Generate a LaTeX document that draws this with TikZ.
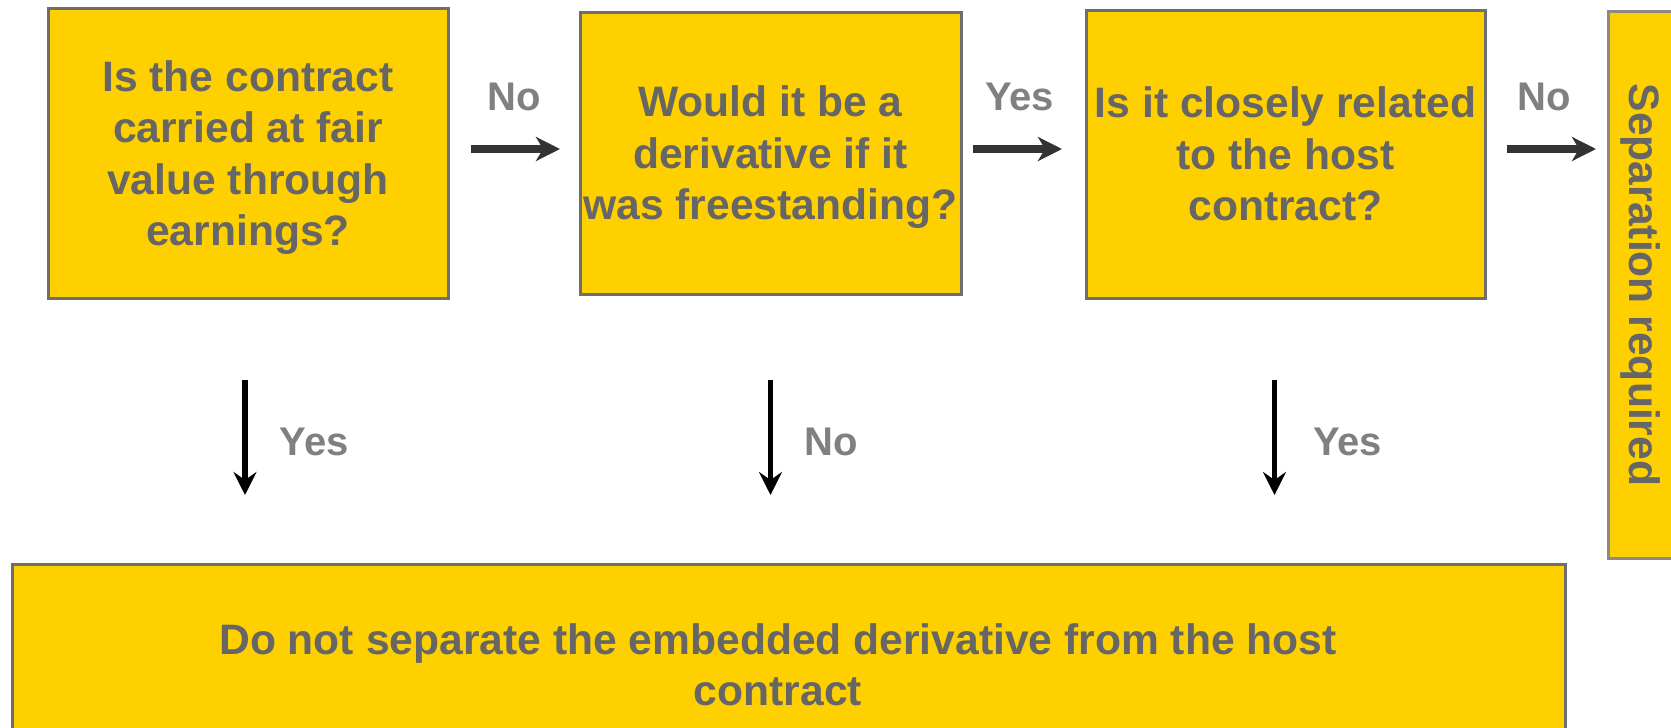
\documentclass[tikz,border=0pt]{standalone}
\usepackage{fontspec}
\setmainfont{Liberation Sans}
\usetikzlibrary{arrows.meta}
\definecolor{boxfill}{HTML}{FFD000}
\definecolor{boxline}{HTML}{6E6E6E}
\definecolor{sepline}{HTML}{8A8A8A}
\definecolor{boxtext}{HTML}{666666}
\definecolor{lbl}{HTML}{808080}
\definecolor{harrow}{HTML}{333333}
\tikzset{
  qbox/.style={draw=boxline, line width=3pt, fill=boxfill, inner sep=0pt,
    text=boxtext, align=center, text depth=0pt,
    font=\fontsize{42.6}{51.5}\selectfont\bfseries},
  plainbox/.style={draw=boxline, line width=3pt, fill=boxfill, inner sep=0pt},
  boxtxt/.style={text=boxtext, align=center, inner sep=0pt,
    font=\fontsize{42.6}{51.5}\selectfont\bfseries},
  lbltxt/.style={text=lbl, inner sep=0pt, font=\fontsize{40}{46}\selectfont\bfseries},
  harr/.style={draw=harrow, line width=8pt,
    -{Stealth[length=24pt, width=24pt, inset=7pt]}},
  varr/.style={draw=black, line width=5.5pt,
    -{Stealth[length=23pt, width=23pt, inset=8pt]}},
}
\begin{document}
\begin{tikzpicture}[x=1pt,y=-1pt]
\useasboundingbox (0,0) rectangle (1671,728);
% question boxes
\node[qbox, text depth=-4pt, minimum width=400pt, minimum height=290pt] (q1) at (248,153)
  {Is the contract\\carried at fair\\value through\\earnings?};
\node[qbox, text depth=-4pt, minimum width=381pt, minimum height=282pt] (q2) at (770.5,153)
  {Would it be a\\derivative if it\\was freestanding?};
\node[qbox, minimum width=399pt, minimum height=288pt] (q3) at (1285.5,154)
  {Is it closely related\\to the host\\contract?};
% separation box (right, cut by page edge)
\node[plainbox, draw=sepline, minimum width=82pt, minimum height=547pt] (sep) at (1649,284.5) {};
\node[boxtxt, rotate=-90] (septxt) at (1640,285) {Separation required};
% bottom box (cut by page edge)
\node[plainbox, minimum width=1553pt, minimum height=202pt] (keep) at (788.5,665) {};
\node[boxtxt] (keeptxt) at (778,665)
  {Do not separate the embedded derivative from the host\\contract};
% horizontal arrows
\coordinate (h1s) at (471,149); \coordinate (h1e) at (560,149);
\coordinate (h2s) at (973,149); \coordinate (h2e) at (1062,149);
\coordinate (h3s) at (1507,149); \coordinate (h3e) at (1596,149);
\draw[harr] (h1s) -- (h1e);
\draw[harr] (h2s) -- (h2e);
\draw[harr] (h3s) -- (h3e);
\node[lbltxt] (l1) at (514,97) {No};
\node[lbltxt] (l2) at (1019.5,97) {Yes};
\node[lbltxt] (l3) at (1544,97) {No};
% vertical arrows
\coordinate (v1s) at (245,380); \coordinate (v1e) at (245,495);
\coordinate (v2s) at (770.5,380); \coordinate (v2e) at (770.5,495);
\coordinate (v3s) at (1274.5,380); \coordinate (v3e) at (1274.5,495);
\draw[varr] (v1s) -- (v1e);
\draw[varr] (v2s) -- (v2e);
\draw[varr] (v3s) -- (v3e);
\node[lbltxt] (b1) at (314,442) {Yes};
\node[lbltxt] (b2) at (831,442) {No};
\node[lbltxt] (b3) at (1347.5,442) {Yes};
\end{tikzpicture}
\end{document}
